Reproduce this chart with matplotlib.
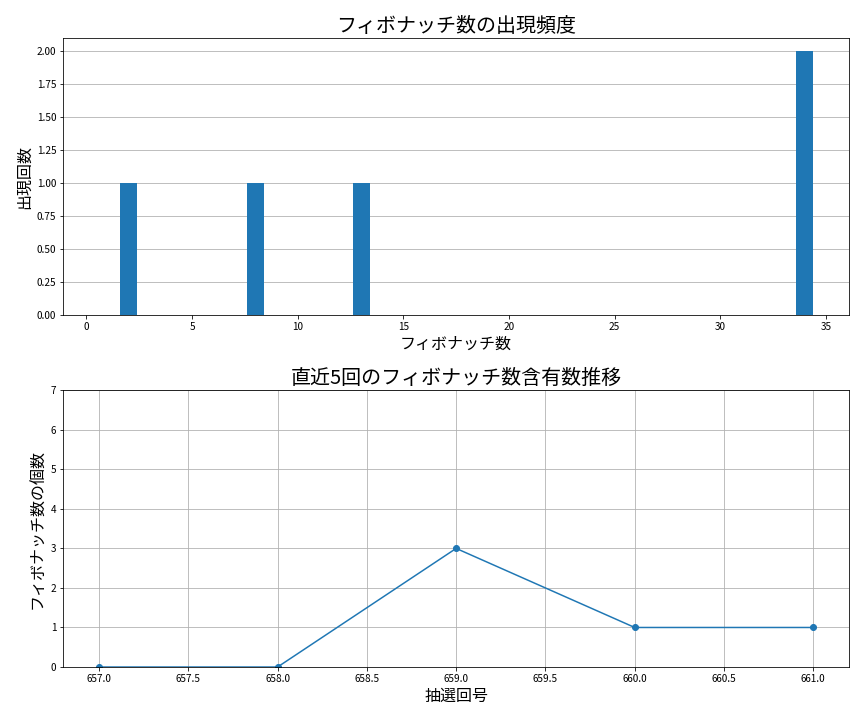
import matplotlib.pyplot as plt

plt.rcParams['font.family'] = ['Noto Sans CJK JP', 'DejaVu Sans']

fib_numbers = [1, 2, 3, 5, 8, 13, 21, 34]
fib_counts = [0, 1, 0, 0, 1, 1, 0, 2]

draws = [657, 658, 659, 660, 661]
fib_per_draw = [0, 0, 3, 1, 1]

fig, (ax1, ax2) = plt.subplots(2, 1, figsize=(12, 10), dpi=72)

ax1.bar(fib_numbers, fib_counts, color='#1f77b4')
ax1.set_title('フィボナッチ数の出現頻度', fontsize=20)
ax1.set_xlabel('フィボナッチ数', fontsize=16)
ax1.set_ylabel('出現回数', fontsize=16)
ax1.grid(axis='y')
ax1.set_axisbelow(True)

ax2.plot(draws, fib_per_draw, marker='o')
ax2.set_title('直近5回のフィボナッチ数含有数推移', fontsize=20)
ax2.set_xlabel('抽選回号', fontsize=16)
ax2.set_ylabel('フィボナッチ数の個数', fontsize=16)
ax2.set_ylim(0, 7)
ax2.grid(True)

plt.subplots_adjust(left=0.0733, right=0.9826, top=0.9468, bottom=0.0736, hspace=0.272)
plt.savefig('out.png')
